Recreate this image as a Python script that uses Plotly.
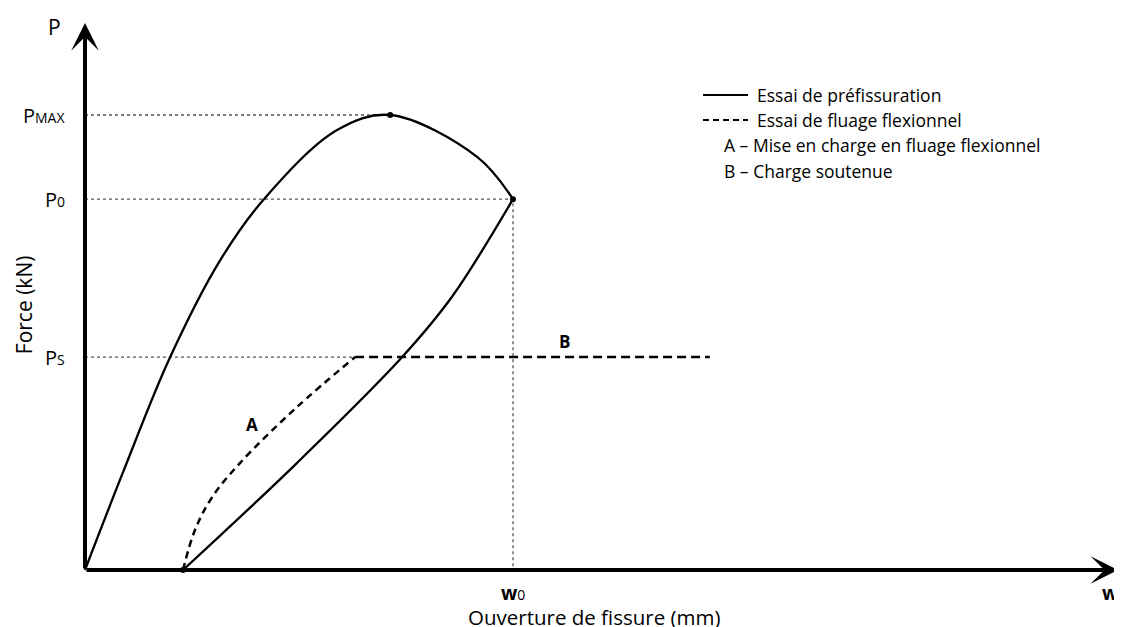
import plotly.graph_objects as go

# ---- data (schematic, arbitrary units: w0 = 1, Pmax = 1) ----
W0 = 1.0
P_MAX = 1.0
P_0 = 0.815
P_S = 0.468
W_PEAK = 0.713
W_RES = 0.229          # residual opening after unloading
W_CREEP_START = 0.631  # end of loading in creep
W_CREEP_END = 1.46     # end of sustained-load segment
X_AXIS_END = 2.414
Y_AXIS_END = 1.202

load_w = [0.0, 0.091, 0.199, 0.316, 0.418, 0.589, 0.713, 0.916, 1.0]
load_p = [0.0, 0.220, 0.468, 0.681, 0.815, 0.967, 1.0, 0.908, 0.815]

unload_w = [1.0, 0.857, 0.741, 0.495, 0.229]
unload_p = [0.815, 0.600, 0.468, 0.235, 0.0]

creep_w = [0.229, 0.257, 0.297, 0.362, 0.495, 0.631]
creep_p = [0.0, 0.088, 0.160, 0.235, 0.358, 0.468]

sustained_w = [0.631, 1.46]
sustained_p = [0.468, 0.468]

FONT = "Open Sans"
OFF = 8                       # page body margin
W, H = 1122 - OFF, 627 - OFF
X0PX, Y0PX = 85 - OFF, 570 - OFF
XSCALE, YSCALE = 428, 455

fig = go.Figure()

dot = dict(color="#555555", width=1.3, dash="dot")
# guide lines
fig.add_trace(go.Scatter(x=[0, W_PEAK], y=[P_MAX, P_MAX], mode="lines", line=dot, showlegend=False))
fig.add_trace(go.Scatter(x=[0, W0, W0], y=[P_0, P_0, 0], mode="lines", line=dot, showlegend=False))
fig.add_trace(go.Scatter(x=[0, W_CREEP_START], y=[P_S, P_S], mode="lines", line=dot, showlegend=False))

# curves
def curve(width, dash=None):
    d = dict(color="black", width=width, shape="spline", smoothing=1.0, simplify=False)
    if dash:
        d["dash"] = dash
    return d

fig.add_trace(go.Scatter(x=load_w, y=load_p, mode="lines", line=curve(2.3), showlegend=False))
fig.add_trace(go.Scatter(x=unload_w, y=unload_p, mode="lines", line=curve(2.3), showlegend=False))
fig.add_trace(go.Scatter(x=creep_w, y=creep_p, mode="lines", line=curve(2.5, "7px,5px"), showlegend=False))
fig.add_trace(go.Scatter(x=sustained_w, y=sustained_p, mode="lines",
                         line=dict(color="black", width=2.5, dash="9px,5px"), showlegend=False))

# key points
fig.add_trace(go.Scatter(x=[W_PEAK, W0, W_RES], y=[P_MAX, P_0, 0], mode="markers",
                         marker=dict(color="black", size=6), showlegend=False))

annotations = []
# axes with arrows
annotations.append(dict(x=X_AXIS_END, y=0, ax=0, ay=0, xref="x", yref="y", axref="x", ayref="y",
                        text="", showarrow=True, arrowhead=3, arrowsize=1.15, arrowwidth=4, arrowcolor="black"))
annotations.append(dict(x=0, y=Y_AXIS_END, ax=0, ay=0, xref="x", yref="y", axref="x", ayref="y",
                        text="", showarrow=True, arrowhead=3, arrowsize=1.15, arrowwidth=4, arrowcolor="black"))

def txt(x, y, s, size=18, xanchor="center", yanchor="middle", **kw):
    annotations.append(dict(x=x, y=y, xref="x", yref="y", text=s, showarrow=False,
                            font=dict(family=FONT, size=size, color="black"),
                            xanchor=xanchor, yanchor=yanchor, **kw))

# y tick labels
txt(-0.042, P_MAX, "P<span style='font-size:14px'>MAX</span>", size=20, xanchor="right")
txt(-0.042, P_0, "P<span style='font-size:14px'>0</span>", size=20, xanchor="right")
txt(-0.042, P_S, "P<span style='font-size:14px'>S</span>", size=20, xanchor="right")
txt(-0.051, 1.193, "P", size=21, xanchor="right")
# x tick labels
txt(W0, -0.05, "<b>w</b><span style='font-size:14px'>0</span>", size=19)
txt(2.372, -0.05, "<b>w</b>", size=19, xanchor="left")
# axis titles
txt(1.19, -0.103, "Ouverture de fissure (mm)", size=20.5)
txt(-0.1425, 0.582, "Force (kN)", size=21, textangle=-90)
# A / B labels
txt(0.39, 0.319, "<b>A</b>", size=17)
txt(1.121, 0.503, "<b>B</b>", size=17)

# legend (manual), positions in reference pixels
def px(xp):
    return (xp - OFF) / W
def py(yp):
    return 1 - (yp - OFF) / H

shapes = [
    dict(type="line", xref="paper", yref="paper", x0=px(703), x1=px(748), y0=py(95), y1=py(95),
         line=dict(color="black", width=2)),
    dict(type="line", xref="paper", yref="paper", x0=px(703), x1=px(748), y0=py(120), y1=py(120),
         line=dict(color="black", width=2, dash="6px,4px")),
]
leg = [(755, 95, "Essai de préfissuration"), (755, 120, "Essai de fluage flexionnel"),
       (722, 145, "A – Mise en charge en fluage flexionnel"), (722, 171, "B – Charge soutenue")]
for xp, yp, s in leg:
    annotations.append(dict(x=px(xp), y=py(yp), xref="paper", yref="paper", text=s, showarrow=False,
                            xanchor="left", yanchor="middle",
                            font=dict(family=FONT, size=17.5, color="black")))

fig.update_layout(
    width=W, height=H,
    margin=dict(l=0, r=0, t=0, b=0),
    paper_bgcolor="white", plot_bgcolor="white",
    xaxis=dict(range=[-X0PX / XSCALE, (W - X0PX) / XSCALE], visible=False, fixedrange=True),
    yaxis=dict(range=[-(H - Y0PX) / YSCALE, Y0PX / YSCALE], visible=False, fixedrange=True),
    annotations=annotations, shapes=shapes, showlegend=False,
)

fig.write_html("out.html")
